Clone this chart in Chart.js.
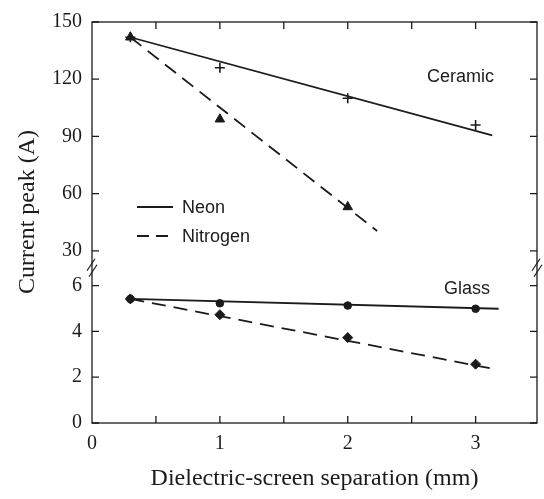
<!DOCTYPE html>
<html lang="en">
<head>
  <meta charset="UTF-8" />
  <title>Current peak vs dielectric-screen separation</title>
  <script src="https://cdn.jsdelivr.net/npm/chart.js@4.4.0/dist/chart.umd.min.js"></script>
  <style>
    body { margin: 0; background: #fff; }
    canvas { display: block; }
  </style>
</head>
<body>
  <canvas id="peakChart" width="544" height="499"></canvas>

  <script>
    // separations in mm
    const separation = [0.3, 1, 2, 3];
    const separationN2Ceramic = [0.3, 1, 2];

    // current peak (A), ceramic screen
    const neonCeramic = [142, 126, 110, 96];
    const nitrogenCeramic = [142, 99, 53];
    // current peak (A), glass screen
    const neonGlass = [5.42, 5.23, 5.13, 4.99];
    const nitrogenGlass = [5.42, 4.73, 3.73, 2.57];

    // straight-line fits, [x, y] end points
    const neonCeramicFit = [[0.3, 142], [3.13, 90.5]];
    const nitrogenCeramicFit = [[0.3, 142], [2.23, 40.4]];
    const neonGlassFit = [[0.3, 5.42], [3.18, 4.99]];
    const nitrogenGlassFit = [[0.3, 5.42], [3.17, 2.33]];

    const xTicks = [0, 1, 2, 3];
    const xTickMarks = [0.5, 1, 1.5, 2, 2.5, 3];
    const upperTicks = [30, 60, 90, 120, 150];
    const lowerTicks = [0, 2, 4, 6];

    const INK = '#1b1b1b';
    const SERIF = '"Liberation Serif", "Times New Roman", serif';
    const SANS = '"Liberation Sans", Arial, sans-serif';

    const toPoints = (xs, ys) => ys.map((y, i) => ({ x: xs[i], y }));
    const fitPoints = fit => fit.map(([x, y]) => ({ x, y }));

    function fitLine(fit, axis, dashed) {
      return {
        data: fitPoints(fit), yAxisID: axis, showLine: true,
        borderColor: INK, borderWidth: 1.8, borderDash: dashed ? [14, 8] : [],
        pointRadius: 0
      };
    }
    function markers(xs, ys, axis, style, radius) {
      return {
        data: toPoints(xs, ys), yAxisID: axis, showLine: false,
        pointStyle: style, pointRadius: radius,
        pointBackgroundColor: INK, pointBorderColor: INK,
        pointBorderWidth: style === 'cross' ? 1.6 : 1
      };
    }

    // frame, inward ticks, axis breaks, y title, legend and panel names
    const frameAndNotes = {
      id: 'frameAndNotes',
      afterDraw(chart) {
        const { ctx, chartArea: a, scales } = chart;
        const t = 7;
        ctx.save();
        ctx.strokeStyle = INK;
        ctx.lineWidth = 1.3;
        ctx.strokeRect(a.left, a.top, a.right - a.left, a.bottom - a.top);

        ctx.beginPath();
        xTickMarks.forEach(v => {
          const px = scales.x.getPixelForValue(v);
          ctx.moveTo(px, a.bottom); ctx.lineTo(px, a.bottom - t);
          ctx.moveTo(px, a.top); ctx.lineTo(px, a.top + t);
        });
        const yTick = py => {
          ctx.moveTo(a.left, py); ctx.lineTo(a.left + t, py);
          ctx.moveTo(a.right, py); ctx.lineTo(a.right - t, py);
        };
        upperTicks.forEach(v => yTick(scales.yTop.getPixelForValue(v)));
        lowerTicks.forEach(v => yTick(scales.yBot.getPixelForValue(v)));
        ctx.stroke();

        // break marks where the two y ranges meet
        const by = scales.yBot.top;
        ctx.lineWidth = 1.2;
        ctx.beginPath();
        [a.left, a.right].forEach(bx => {
          ctx.moveTo(bx - 5, by + 3); ctx.lineTo(bx + 3, by - 9);
          ctx.moveTo(bx - 3, by + 9); ctx.lineTo(bx + 5, by - 3);
        });
        ctx.stroke();

        ctx.fillStyle = INK;
        ctx.save();
        ctx.translate(28, 212);
        ctx.rotate(-Math.PI / 2);
        ctx.font = '24px ' + SERIF;
        ctx.textAlign = 'center';
        ctx.textBaseline = 'middle';
        ctx.fillText('Current peak (A)', 0, 0);
        ctx.restore();

        ctx.font = '18px ' + SANS;
        ctx.textAlign = 'left';
        ctx.textBaseline = 'alphabetic';
        ctx.fillText('Ceramic', 427, 82);
        ctx.fillText('Glass', 444, 294);

        // legend
        ctx.lineWidth = 1.8;
        ctx.beginPath();
        ctx.moveTo(137, 207); ctx.lineTo(173, 207);
        ctx.stroke();
        ctx.setLineDash([12, 7]);
        ctx.beginPath();
        ctx.moveTo(137, 236); ctx.lineTo(173, 236);
        ctx.stroke();
        ctx.setLineDash([]);
        ctx.fillText('Neon', 182, 213);
        ctx.fillText('Nitrogen', 182, 242);
        ctx.restore();
      }
    };

    const tickFont = { family: SERIF, size: 20 };
    const setTicks = list => scale => { scale.ticks = list.map(v => ({ value: v })); };
    const noGrid = { display: false, drawTicks: false };

    new Chart(document.getElementById('peakChart'), {
      type: 'scatter',
      data: {
        datasets: [
          fitLine(neonCeramicFit, 'yTop', false),
          fitLine(nitrogenCeramicFit, 'yTop', true),
          markers(separation, neonCeramic, 'yTop', 'cross', 5),
          markers(separationN2Ceramic, nitrogenCeramic, 'yTop', 'triangle', 5.5),
          fitLine(neonGlassFit, 'yBot', false),
          fitLine(nitrogenGlassFit, 'yBot', true),
          markers(separation, neonGlass, 'yBot', 'circle', 3.8),
          markers(separation, nitrogenGlass, 'yBot', 'rectRot', 5)
        ]
      },
      options: {
        responsive: false,
        animation: false,
        layout: { padding: { top: 20, right: 7, left: 0, bottom: 0 } },
        plugins: { legend: { display: false }, tooltip: { enabled: false } },
        scales: {
          x: {
            type: 'linear', position: 'bottom', min: 0, max: 3.48,
            grid: noGrid, border: { display: false },
            afterBuildTicks: setTicks(xTicks),
            afterFit: s => { s.height = 76; },
            ticks: { font: tickFont, color: INK, padding: 9 },
            title: {
              display: true, text: 'Dielectric-screen separation (mm)',
              font: { family: SERIF, size: 24 }, color: INK,
              padding: { top: 0, bottom: 6 }
            }
          },
          yBot: {
            type: 'linear', position: 'left', stack: 'current', stackWeight: 156,
            min: 0, max: 6.78,
            grid: noGrid, border: { display: false },
            afterBuildTicks: setTicks(lowerTicks),
            afterFit: s => { s.width = 92; },
            ticks: { font: tickFont, color: INK, padding: 10 }
          },
          yTop: {
            type: 'linear', position: 'left', stack: 'current', stackWeight: 247,
            min: 21.1, max: 150,
            grid: noGrid, border: { display: false },
            afterBuildTicks: setTicks(upperTicks),
            afterFit: s => { s.width = 92; },
            ticks: { font: tickFont, color: INK, padding: 10 }
          }
        }
      },
      plugins: [frameAndNotes]
    });
  </script>
</body>
</html>
